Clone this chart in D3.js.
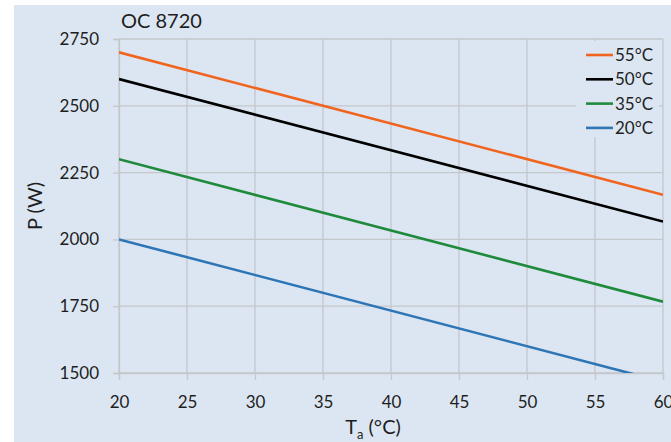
<!DOCTYPE html>
<html><head><meta charset="utf-8">
<script src="https://cdn.jsdelivr.net/npm/d3@7"></script>
<style>body{margin:0;background:#fff}svg{display:block}text{font-family:Lato,"Open Sans",sans-serif;fill:#1e1e1e}</style>
</head><body><svg id="c" width="671" height="442"></svg>
<script>
const title = "OC 8720";
const seriesNames = ["55°C", "50°C", "35°C", "20°C"];
const seriesColors = ["#f0641e", "#000000", "#1f8a3c", "#2e75b6"];
const tempA = [20, 60];
const p55 = [2700, 2167];
const p50 = [2600, 2067];
const p35 = [2300, 1767];
const p20 = [2000, 1467];
const xTicks = [20, 25, 30, 35, 40, 45, 50, 55, 60];
const yTicks = [1500, 1750, 2000, 2250, 2500, 2750];

const series = [p55, p50, p35, p20].map((vals, i) => ({
  name: seriesNames[i], color: seriesColors[i],
  pts: vals.map((v, j) => [tempA[j], v])
}));

const svg = d3.select("#c");
svg.append("rect").attr("x", 14).attr("y", 5).attr("width", 671 - 14).attr("height", 442 - 5).attr("fill", "#dce6f2");

const x = d3.scaleLinear().domain([20, 60]).range([119, 663]);
const y = d3.scaleLinear().domain([1500, 2750]).range([373, 39]);
const gridC = "#c4c7cb";

// gridlines
svg.append("g").selectAll("line").data(xTicks).join("line")
  .attr("x1", d => x(d)).attr("x2", d => x(d)).attr("y1", y(2750)).attr("y2", y(1500))
  .attr("stroke", gridC).attr("stroke-width", 1.3);
svg.append("g").selectAll("line").data(yTicks).join("line")
  .attr("x1", x(20)).attr("x2", x(60)).attr("y1", d => y(d)).attr("y2", d => y(d))
  .attr("stroke", gridC).attr("stroke-width", 1.3);

// axes
const xAxis = d3.axisBottom(x).tickValues(xTicks).tickSize(7).tickPadding(13).tickFormat(d3.format("d"));
const gx = svg.append("g").attr("transform", `translate(0,${y(1500)})`).call(xAxis);
const yAxis = d3.axisLeft(y).tickValues(yTicks).tickSize(6).tickPadding(14).tickFormat(d3.format("d"));
const gy = svg.append("g").attr("transform", `translate(${x(20)},0)`).call(yAxis);
[gx, gy].forEach(g => {
  g.select(".domain").attr("stroke", gridC).attr("stroke-width", 1.3);
  g.selectAll(".tick line").attr("stroke", gridC).attr("stroke-width", 1.3);
  g.selectAll(".tick text").attr("font-size", 17).attr("font-family", "Lato, sans-serif").attr("fill", "#1e1e1e");
});
gx.selectAll(".tick text").attr("dy", "0.9em");

// lines
svg.append("clipPath").attr("id", "clip").append("rect")
  .attr("x", x(20)).attr("y", y(2750)).attr("width", x(60) - x(20)).attr("height", y(1500) - y(2750));
const line = d3.line().x(d => x(d[0])).y(d => y(d[1]));
svg.append("g").attr("clip-path", "url(#clip)").selectAll("path").data(series).join("path")
  .attr("d", d => line(d.pts)).attr("fill", "none").attr("stroke", d => d.color).attr("stroke-width", 2.6);

// title
svg.append("text").attr("x", 121).attr("y", 28).attr("font-size", 20).text(title);

// axis titles
const xl = svg.append("text").attr("x", 373).attr("y", 434).attr("text-anchor", "middle").attr("font-size", 20);
xl.append("tspan").text("T");
xl.append("tspan").attr("font-size", 13).attr("dy", 5).text("a");
xl.append("tspan").attr("dy", -5).text(" (°C)");
svg.append("text").attr("transform", "translate(42,206) rotate(-90)").attr("text-anchor", "middle").attr("font-size", 20).text("P (W)");

// legend
const lg = svg.append("g");
lg.append("rect").attr("x", 576).attr("y", 41).attr("width", 83).attr("height", 96).attr("fill", "#dce6f2");
const items = lg.selectAll("g").data(series).join("g").attr("transform", (d, i) => `translate(586,${55 + i * 24.3})`);
items.append("line").attr("x1", 0).attr("x2", 27).attr("stroke", d => d.color).attr("stroke-width", 2.6);
items.append("text").attr("x", 29).attr("dy", "0.36em").attr("font-size", 17).text(d => d.name);
</script></body></html>
